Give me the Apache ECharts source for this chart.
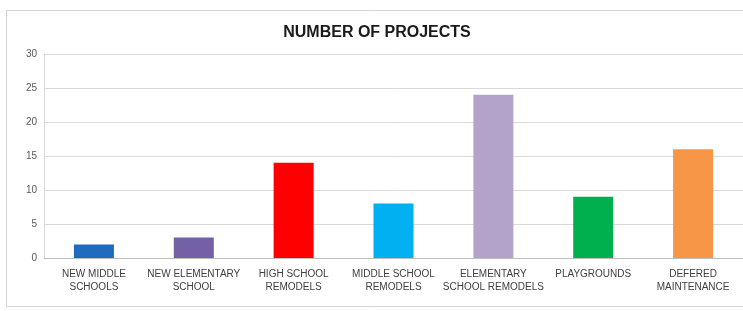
<!DOCTYPE html>
<html>
<head>
<meta charset="utf-8">
<script src="https://cdn.jsdelivr.net/npm/echarts@6/dist/echarts.min.js"></script>
<style>
  html, body { margin: 0; padding: 0; background: #fff; }
  #chart { width: 743px; height: 311px; }
</style>
</head>
<body>
<div id="chart"></div>
<script>
const categories = [
  'NEW MIDDLE\nSCHOOLS',
  'NEW ELEMENTARY\nSCHOOL',
  'HIGH SCHOOL\nREMODELS',
  'MIDDLE SCHOOL\nREMODELS',
  'ELEMENTARY\nSCHOOL REMODELS',
  'PLAYGROUNDS',
  'DEFERED\nMAINTENANCE',
]
const projects = [2, 3, 14, 8, 24, 9, 16]
const barColors = ['#1f6cbd', '#7460a5', '#ff0000', '#00b0f0', '#b3a2c9', '#00b04f', '#f79646']

const font = '"Liberation Sans", Arial, sans-serif'

const chart = echarts.init(document.getElementById('chart'))
chart.setOption({
  backgroundColor: '#fff',
  animation: false,
  title: {
    text: 'NUMBER OF PROJECTS',
    left: 372,
    textAlign: 'center',
    top: 20,
    textStyle: { fontFamily: font, fontWeight: 'bold', fontSize: 16, color: '#1a1a1a' },
  },
  graphic: [
    {
      type: 'rect',
      shape: { x: 6.5, y: 10.5, width: 760, height: 296 },
      style: { fill: 'none', stroke: '#d4d4d4', lineWidth: 1 },
      silent: true,
    },
  ],
  grid: { left: 44, right: 0, top: 54, bottom: 53 },
  xAxis: {
    type: 'category',
    data: categories,
    axisLine: { lineStyle: { color: '#bfbfbf' } },
    axisTick: { show: false },
    axisLabel: { color: '#404040', fontFamily: font, fontSize: 10, lineHeight: 13, margin: 10, interval: 0 },
  },
  yAxis: {
    type: 'value',
    min: 0,
    max: 30,
    interval: 5,
    axisLine: { show: true, lineStyle: { color: '#d9d9d9' } },
    axisTick: { show: false },
    axisLabel: { color: '#595959', fontFamily: font, fontSize: 10, margin: 7 },
    splitLine: { lineStyle: { color: '#d9d9d9' } },
  },
  series: [
    {
      type: 'bar',
      barWidth: 40,
      data: projects.map((v, i) => ({ value: v, itemStyle: { color: barColors[i] } })),
    },
  ],
})
</script>
</body>
</html>
